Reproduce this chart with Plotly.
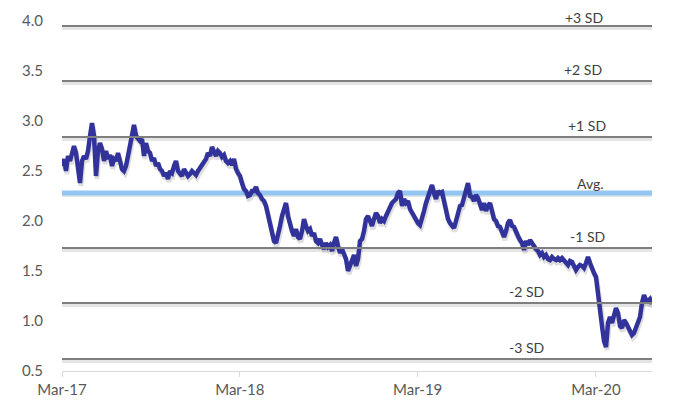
import pandas as pd
import plotly.graph_objects as go

# ---------------- data ----------------
start_date = "2017-03-01"
end_date = "2020-06-24"

values = [
    # Mar-17 .. Mar-18
    2.55, 2.62, 2.50, 2.65, 2.60, 2.70, 2.75, 2.68, 2.50, 2.38,
    2.60, 2.65, 2.62, 2.70, 2.85, 2.98, 2.85, 2.45, 2.70, 2.78,
    2.72, 2.60, 2.70, 2.62, 2.66, 2.55, 2.62, 2.60, 2.68, 2.58,
    2.52, 2.50, 2.55, 2.65, 2.75, 2.85, 2.96, 2.85, 2.82, 2.80,
    2.82, 2.65, 2.78, 2.70, 2.68, 2.60, 2.63, 2.55, 2.58, 2.52,
    2.50, 2.45, 2.48, 2.42, 2.50, 2.48, 2.55, 2.60, 2.50, 2.48,
    2.45, 2.52, 2.48, 2.45, 2.47, 2.50, 2.48, 2.46, 2.50, 2.53,
    2.55, 2.60, 2.62, 2.68, 2.65, 2.74, 2.70, 2.65, 2.70, 2.68,
    2.64, 2.66, 2.60, 2.58, 2.60, 2.56, 2.62, 2.52, 2.48,
    # Mar-18 .. Mar-19
    2.45, 2.38, 2.32, 2.30, 2.25, 2.26, 2.30, 2.30, 2.34, 2.28,
    2.26, 2.22, 2.20, 2.15, 2.05, 1.95, 1.88, 1.80, 1.78, 1.85,
    1.95, 2.05, 2.10, 2.18, 2.05, 1.95, 1.90, 1.85, 1.92, 1.84,
    1.82, 1.90, 2.02, 1.95, 1.90, 1.92, 1.85, 1.88, 1.80, 1.78,
    1.82, 1.76, 1.72, 1.78, 1.74, 1.76, 1.70, 1.78, 1.84, 1.75,
    1.68, 1.72, 1.68, 1.62, 1.50, 1.55, 1.62, 1.66, 1.55, 1.62,
    1.80, 1.82, 1.90, 2.02, 2.05, 2.00, 1.95, 2.02, 2.08, 2.05,
    1.98, 2.02, 2.00, 2.05, 2.10, 2.15, 2.18, 2.20, 2.22, 2.28,
    2.30, 2.15, 2.22, 2.18, 2.20, 2.12, 2.08, 2.05, 2.00,
    # Mar-19 .. Mar-20
    1.98, 1.96, 2.02, 2.10, 2.18, 2.25, 2.30, 2.36, 2.28, 2.22,
    2.30, 2.28, 2.29, 2.18, 2.10, 2.02, 1.98, 1.95, 1.93, 2.00,
    2.08, 2.15, 2.16, 2.25, 2.30, 2.38, 2.25, 2.24, 2.20, 2.26,
    2.23, 2.15, 2.11, 2.18, 2.10, 2.15, 2.18, 2.10, 2.02, 2.00,
    1.95, 1.94, 1.90, 1.84, 1.90, 1.98, 2.01, 1.95, 1.94, 1.88,
    1.85, 1.81, 1.78, 1.71, 1.80, 1.76, 1.81, 1.78, 1.74, 1.72,
    1.70, 1.66, 1.68, 1.64, 1.66, 1.62, 1.61, 1.64, 1.62, 1.61,
    1.63, 1.61, 1.63, 1.60, 1.58, 1.56, 1.60, 1.59, 1.55, 1.51,
    1.54, 1.56, 1.55, 1.53, 1.58, 1.64, 1.58, 1.52, 1.48, 1.44,
    # Mar-20 .. Jun-20
    1.30, 1.10, 0.95, 0.80, 0.74, 0.98, 1.04, 0.98, 1.08, 1.13,
    1.08, 0.95, 0.93, 1.01, 0.98, 0.94, 0.90, 0.86, 0.88, 0.94,
    0.97, 1.04, 1.18, 1.26, 1.21, 1.20, 1.22, 1.17,
]

band_labels = ["+3 SD", "+2 SD", "+1 SD", "Avg.", "-1 SD", "-2 SD", "-3 SD"]
band_values = [3.95, 3.40, 2.84, 2.28, 1.73, 1.18, 0.62]

tick_dates = ["2017-03-01", "2018-03-01", "2019-03-01", "2020-03-01"]
tick_labels = ["Mar-17", "Mar-18", "Mar-19", "Mar-20"]

y_ticks = [0.5, 1.0, 1.5, 2.0, 2.5, 3.0, 3.5, 4.0]

# ---------------- figure ----------------
dates = pd.date_range(start_date, end_date, periods=len(values))

FONT = "Lato"
fig = go.Figure()

# shadow of series
fig.add_trace(go.Scatter(
    x=dates + pd.Timedelta(days=2), y=[v - 0.03 for v in values],
    mode="lines", line=dict(color="rgba(0,0,0,0.13)", width=5),
    hoverinfo="skip", showlegend=False))

fig.add_trace(go.Scatter(
    x=dates, y=values, mode="lines",
    line=dict(color="#31339B", width=4.5),
    showlegend=False))

shapes = []
annotations = []
label_x = {"+3 SD": 0.885, "+2 SD": 0.883, "+1 SD": 0.890, "Avg.": 0.895,
           "-1 SD": 0.890, "-2 SD": 0.788, "-3 SD": 0.788}
label_shift = {"+3 SD": -1, "Avg.": 0}
for lab, val in zip(band_labels, band_values):
    is_avg = lab == "Avg."
    # shadow
    shapes.append(dict(type="line", xref="paper", x0=0, x1=1, yref="y",
                       y0=val - 0.025, y1=val - 0.025, layer="below",
                       line=dict(color="rgba(0,0,0,0.10)", width=3)))
    shapes.append(dict(type="line", xref="paper", x0=0, x1=1, yref="y",
                       y0=val, y1=val,
                       layer="below" if is_avg else "above",
                       line=dict(color="#93C6F2" if is_avg else "#7F7F7F",
                                 width=5 if is_avg else 2)))
    annotations.append(dict(x=label_x[lab], xref="paper", y=val, yref="y",
                            text=lab, showarrow=False, xanchor="center",
                            yanchor="bottom", borderpad=0,
                            yshift=label_shift.get(lab, 2),
                            font=dict(family=FONT, size=14, color="#404040")))

fig.update_layout(
    width=680, height=405,
    margin=dict(l=54, r=36, t=13, b=42, autoexpand=False),
    paper_bgcolor="white", plot_bgcolor="white",
    shapes=shapes, annotations=annotations,
    font=dict(family=FONT, size=15, color="#595959"),
    showlegend=False,
)
fig.update_xaxes(
    type="date", range=[start_date, end_date],
    tickvals=tick_dates, ticktext=tick_labels,
    showgrid=False, zeroline=False, automargin=False,
    showline=True, linecolor="#D9D9D9", linewidth=1,
    ticks="outside", ticklen=5, tickcolor="#D9D9D9",
    tickfont=dict(family=FONT, size=15, color="#595959"),
)
fig.update_yaxes(
    range=[0.5, 4.0], tickvals=y_ticks,
    ticktext=[f"{t:.1f}" for t in y_ticks],
    showgrid=False, zeroline=False, showline=False, ticks="",
    automargin=False, ticklabelstandoff=18,
    tickfont=dict(family=FONT, size=15, color="#595959"),
)

fig.write_html("out.html")
